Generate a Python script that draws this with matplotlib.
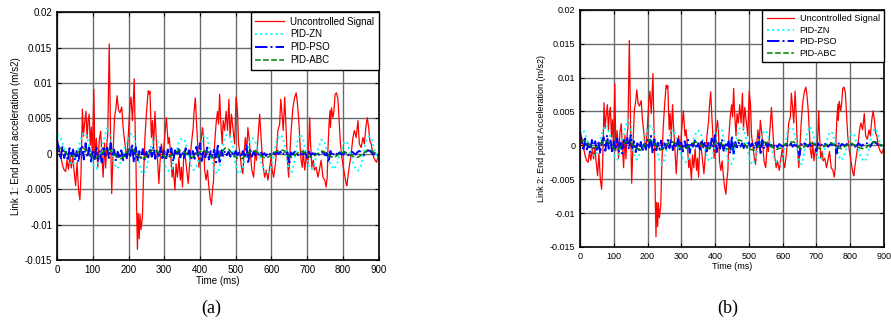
import numpy as np
import matplotlib
matplotlib.use("Agg")
import matplotlib.pyplot as plt
from matplotlib.ticker import FuncFormatter

plt.rcParams['font.family'] = ['Liberation Sans', 'DejaVu Sans']

# Uncontrolled signal (time in ms, value in m/s2)
red_t = [0, 5, 10, 15, 19, 24, 28, 32, 36, 40, 44, 48, 52, 56, 60, 64, 67, 71, 74, 77,
         81, 84, 87, 90, 93, 96, 99, 103, 106, 110, 114, 118, 122, 126, 129, 133, 136, 139, 142, 146,
         150, 153, 157, 161, 165, 168, 172, 176, 181, 185, 190, 195, 199, 204, 207, 211, 216, 219, 221, 223,
         225, 227, 230, 232, 235, 239, 242, 246, 250, 255, 258, 260, 262, 264, 267, 270, 274, 277, 281, 285,
         288, 292, 297, 301, 306, 311, 314, 318, 322, 325, 330, 333, 337, 341, 345, 348, 351, 354, 357, 362,
         367, 371, 376, 381, 383, 387, 390, 393, 397, 400, 404, 407, 410, 413, 417, 421, 424, 428, 432, 435,
         438, 441, 445, 449, 452, 455, 458, 462, 465, 469, 473, 477, 481, 484, 488, 492, 497, 501, 505, 508,
         512, 516, 520, 523, 527, 531, 534, 538, 542, 545, 550, 555, 558, 563, 567, 572, 576, 581, 585, 590,
         595, 599, 602, 606, 611, 615, 618, 623, 626, 629, 633, 637, 640, 644, 648, 652, 655, 660, 665, 669,
         672, 676, 679, 682, 686, 689, 693, 697, 702, 707, 709, 713, 717, 720, 725, 730, 734, 739, 744, 749,
         753, 756, 758, 761, 764, 765, 768, 772, 775, 778, 782, 786, 789, 793, 797, 801, 804, 809, 811, 815,
         819, 823, 828, 832, 837, 842, 846, 851, 856, 860, 864, 868, 872, 875, 879, 882, 886, 890, 894, 898, 900]
red_v = [8, 12, -3, -15, -22, -25, -9, -22, -4, -20, -3, -26, -45, -12, -50, -65, -30, 63, 25, 42,
         60, 22, 47, 56, 12, 38, -3, 91, -8, 22, -19, 18, 32, -5, -33, 15, -20, 12, 28, 155,
         20, -56, 5, 52, 65, 82, 62, 58, 66, 37, 14, -7, 22, 68, 80, 47, 106, 25, -16, -84,
         -135, -84, -120, -85, -107, -89, -33, 23, 56, 89, 84, 88, 56, 23, 47, 10, 60, 28, -5, -42,
         -14, 14, -5, 23, 51, 14, 23, 0, -33, -19, -51, -14, -33, -5, -37, -19, -47, -9, 5, -19,
         -42, -14, 14, 37, 56, 79, 47, 19, -19, 0, 23, 37, 23, -23, -37, -23, -42, -61, -72, -51,
         -37, 14, 42, 60, 42, 84, 47, 14, 47, 33, 60, 33, 77, 23, 56, 37, 14, 80, 60, 14,
         0, -19, -28, 0, 23, 5, 37, 19, -5, -23, -33, 5, -9, 28, 56, 14, -14, -33, -23, -37,
         -19, -5, -23, -33, -14, 9, 33, 42, 77, 60, 33, 80, 47, -5, -33, 5, 33, 65, 80, 86,
         75, 51, 23, -5, -19, 5, -23, -5, -14, 51, 19, -19, -9, -23, -19, -33, -23, -9, -33, -37,
         -47, -33, 5, 42, 61, 37, 65, 51, 61, 84, 86, 77, 51, 14, -5, -19, -28, -42, -45, -28,
         -14, 0, 23, 33, 23, 47, 14, 9, 23, 14, 37, 51, 37, 19, 14, 5, -5, -9, -12, -5, -8]

# PID-ZN
zn_t = [0, 8, 18, 27, 36, 43, 48, 55, 64, 74, 80, 88, 95, 104, 111, 117, 125, 134, 141, 146,
        153, 160, 167, 173, 181, 190, 199, 209, 216, 223, 229, 236, 243, 250, 257, 264, 272, 278, 285, 292,
        302, 307, 314, 321, 330, 340, 349, 357, 366, 375, 382, 388, 398, 405, 412, 420, 428, 437, 447, 454,
        461, 469, 475, 484, 491, 498, 505, 513, 521, 531, 540, 547, 554, 563, 573, 582, 591, 600, 607, 614,
        622, 632, 640, 648, 656, 664, 672, 680, 688, 696, 704, 712, 720, 730, 740, 748, 756, 766, 775, 785,
        795, 805, 813, 822, 832, 842, 850, 858, 866, 874, 882, 890, 900]
zn_v = [26, 25, 12, -2, -11, -16, -13, -2, 17, 29, 29, 17, -6, -18, -21, -11, 8, 26, 38, 31,
        8, -14, -21, -18, -7, 10, 22, 29, 24, 8, -11, -25, -28, -21, -4, 12, 22, 22, 12, -4,
        -16, -21, -25, -21, -2, 15, 22, 19, 3, -16, -23, -21, -7, 17, 26, 24, 3, -18, -28, -21,
        3, 22, 27, 26, 12, -11, -25, -28, -16, 3, 17, 22, 19, 3, -16, -25, -28, -18, 0, 18,
        26, 24, 5, -22, -28, -12, 16, 28, 22, 2, -16, -22, -15, 6, 20, 18, 2, -16, -22, -12,
        6, 18, 15, -2, -18, -24, -18, 2, 20, 25, 18, 2, -8]

# PID-PSO (sampled every 5 ms)
pso_t = list(range(0, 905, 5))
pso_v = [20, 5, -8, 10, -6, 3, -10, 8, -4, 6, -9,
         4, -12, 7, 12, -8, 15, -5, 9, -11, 6,
         -7, 10, -9, 4, -12, 8, -3, 11, -6, 15,
         -4, 6, -10, 3, -7, 5, -9, 2, -6, 8,
         -3, 14, -12, 9, -10, 4, -6, 7, -8, 3,
         -5, 8, -4, 10, -7, 5, -3, 9, -6, 4,
         -9, 6, -4, 8, -11, 5, -2, 7, -5, 3,
         -6, 8, -3, 5, -9, 4, -7, 10, -4, 15,
         -10, 6, -5, 9, -8, 4, -3, 6, -12, 14,
         -14, 5, -3, 4, -2, 3, -4, 2, -3, 4,
         -2, 3, -5, 4, -3, 12, -14, 8, -4, 3,
         -2, 2, -1, 3, -2, 1, -3, 2, 0, -2,
         1, -1, 2, 0, 3, -2, 1, -1, 2, -15,
         2, -1, 3, 1, -2, 2, -1, 0, 2, -8,
         3, -2, 1, -1, 2, 0, -2, 1, 3, -2,
         1, -12, 4, -3, 2, 1, -1, 2, 0, -1,
         2, 1, -2, 0, 3, 1, -1, 2, 4, 3,
         1, -2, 3, 5, 4, 2, -1, 1, -2, -3]

# PID-ABC
abc_t = [0, 10, 22, 36, 48, 60, 74, 88, 100, 108, 120, 134, 146, 160, 172, 181, 192, 204, 214, 226,
         236, 248, 264, 276, 290, 302, 312, 326, 340, 352, 366, 377, 390, 405, 418, 433, 445, 458, 470, 482,
         493, 505, 517, 530, 545, 558, 570, 582, 594, 608, 622, 634, 646, 654, 666, 680, 692, 704, 714, 728,
         742, 754, 766, 776, 790, 804, 816, 830, 842, 856, 868, 878, 890, 900]
abc_v = [5, 8, 3, -4, -3, 3, 8, 3, -5, -7, -2, 5, 6, -1, -6, -7, 0, 8, 6, -2,
         -7, -5, 5, 5, 0, -4, -5, 0, 5, 4, -2, -5, -2, 5, 3, -5, -6, 0, 8, 6,
         -2, -6, -7, -1, 5, 3, -3, -6, -4, 2, 5, 5, -2, -5, -2, 4, 2, -4, -5, 0,
         4, 1, -4, -5, 0, 3, 0, -4, -5, 0, 5, 5, 1, -1]

scale = 1e-4  # values above are stored in units of 1e-4 m/s2
yticks = [-0.015, -0.01, -0.005, 0, 0.005, 0.01, 0.015, 0.02]
xticks = [0, 100, 200, 300, 400, 500, 600, 700, 800, 900]

fig = plt.figure(figsize=(8.91, 3.28), dpi=100)
ax1 = fig.add_axes([0.064, 0.207, 0.361, 0.756])
ax2 = fig.add_axes([0.651, 0.247, 0.341, 0.723])


def draw(ax, ylabel, fs, lfs):
    ax.plot(red_t, np.array(red_v) * scale, color='red', lw=0.9, label='Uncontrolled Signal')
    ax.plot(zn_t, np.array(zn_v) * scale, color='cyan', lw=1.4, ls=':', label='PID-ZN')
    ax.plot(pso_t, np.array(pso_v) * scale, color='blue', lw=1.4, ls='-.', label='PID-PSO')
    ax.plot(abc_t, np.array(abc_v) * scale, color='green', lw=1.1, ls='--', label='PID-ABC')
    ax.set_xlim(0, 900)
    ax.set_ylim(-0.015, 0.02)
    ax.set_xticks(xticks)
    ax.set_yticks(yticks)
    ax.yaxis.set_major_formatter(FuncFormatter(lambda v, p: '%g' % round(v, 4)))
    ax.grid(True, color='0.42', lw=1.0, ls='-')
    ax.set_axisbelow(True)
    ax.tick_params(direction='in', top=True, right=True, length=3, labelsize=fs, width=0.8)
    for s in ax.spines.values():
        s.set_linewidth(1.2)
    ax.set_xlabel('Time (ms)', fontsize=fs, labelpad=1)
    ax.set_ylabel(ylabel, fontsize=fs, labelpad=3)
    leg = ax.legend(loc='upper right', bbox_to_anchor=(1.0, 1.0), borderaxespad=0,
                    fancybox=False, edgecolor='black', framealpha=1, fontsize=lfs,
                    handlelength=3.0, handletextpad=0.6, labelspacing=0.3, borderpad=0.45)
    leg.get_frame().set_linewidth(1.0)


draw(ax1, 'Link 1: End point acceleration (m/s2)', 7, 7)
draw(ax2, 'Link 2: End point Acceleration (m/s2)', 6.5, 6.6)

fig.text(0.237, 0.06, '(a)', fontsize=13, family='Liberation Serif', ha='center', va='center')
fig.text(0.817, 0.06, '(b)', fontsize=13, family='Liberation Serif', ha='center', va='center')

fig.savefig('out.png', dpi=100)
